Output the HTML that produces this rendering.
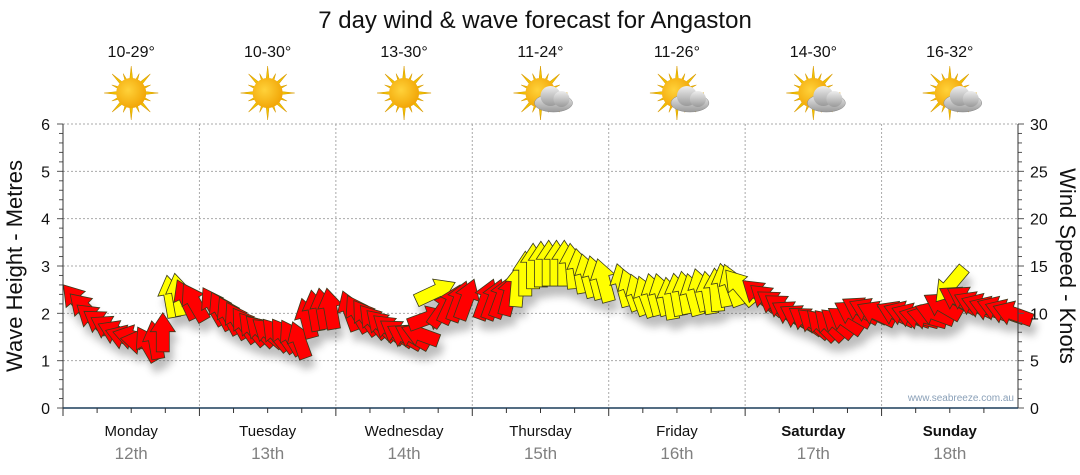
<!DOCTYPE html>
<html><head><meta charset="utf-8"><style>
html,body{margin:0;padding:0;background:#fff;}
svg{display:block;font-family:"Liberation Sans",sans-serif;}
</style></head><body>
<svg id="chart" width="1080" height="475" viewBox="0 0 1080 475" xmlns="http://www.w3.org/2000/svg">
<defs>
<filter id="shadow" x="-50%" y="-50%" width="200%" height="200%"><feGaussianBlur stdDeviation="4"/></filter>
<radialGradient id="sunG" cx="0.4" cy="0.4" r="0.7"><stop offset="0" stop-color="#ffd23a"/><stop offset="1" stop-color="#f0a000"/></radialGradient>
<linearGradient id="cloudG" x1="0" y1="0" x2="0" y2="1"><stop offset="0" stop-color="#eeeeee"/><stop offset="1" stop-color="#9a9a9a"/></linearGradient>
</defs>
<text x="535" y="28" font-size="24" text-anchor="middle" fill="#111">7 day wind &amp; wave forecast for Angaston</text>
<g id="grid"></g>
<g id="icons"></g>
<g id="shadows" filter="url(#shadow)" opacity="0.35"></g>
<g id="arrows"></g>
<g id="axes"></g>
<text transform="translate(22,266) rotate(-90)" font-size="22" text-anchor="middle" fill="#111">Wave Height - Metres</text>
<text transform="translate(1060,266) rotate(90)" font-size="22" text-anchor="middle" fill="#111">Wind Speed - Knots</text>
<text x="1014" y="401" font-size="10" text-anchor="end" fill="#8aa0b8">www.seabreeze.com.au</text>
</svg>
<script>
const days = ["Monday","Tuesday","Wednesday","Thursday","Friday","Saturday","Sunday"];
const dates = ["12th","13th","14th","15th","16th","17th","18th"];
const temps = ["10-29°","10-30°","13-30°","11-24°","11-26°","14-30°","16-32°"];
const cloudy = [0,0,0,1,1,1,1];
const waveTicks = [0,1,2,3,4,5,6];
const knotTicks = [0,5,10,15,20,25,30];
const windSpeed = [
 11.3,10.5,9.5,9,8.5,8,7.5,7.5,7,6.8,7.2,8,11.8,12,11.5,11.2,
 10.8,10.3,9.8,9.3,8.8,8.4,8.2,8,7.8,7.7,7.5,7.2,9.5,10.3,10.5,10.5,
 10.3,10,9.6,9.2,8.8,8.4,8,7.6,7.6,7.8,9.5,12.3,10.5,11,11.3,11.5,
 11.5,11.5,11.7,12,13,14.2,15,15.2,15.3,15.3,15.3,15,14.5,14,13.8,13.5,
 13,12.5,12,11.8,12,12,11.6,12,12.2,12,12.5,12.2,12.5,13,13,12.8,
 12,11.5,11,10.6,10,9.6,9.3,9,8.8,8.8,9,9.3,10,10.4,10.3,10,
 10,10,9.8,9.6,9.6,10,10.8,13.0,11.5,11.5,11,10.8,10.5,10.5,10.2,10];
const windDir = [
 -40,-45,-50,-55,-60,-65,-70,-75,-80,-30,-10,0,-10,-10,-25,-30,
 -30,-28,-28,-30,-35,-40,-45,-50,-40,-35,-30,-20,-15,-10,-10,-10,
 -20,-30,-35,-40,-45,-50,-55,-60,-60,-70,70,65,35,25,20,20,
 20,20,20,15,5,0,0,0,0,0,0,-5,-10,-15,-15,-15,
 -15,-20,-20,-20,-15,-15,-10,-10,-10,-15,-15,-10,-5,-10,-20,-40,
 -50,-50,-55,-55,-60,-60,-55,-50,-45,-45,-50,-55,-60,-60,-65,-65,
 -65,-70,-70,-75,-75,-70,-60,-140,-60,-60,-65,-70,-70,-70,-70,-70];
const windColor = [
 "r","r","r","r","r","r","r","r","r","r","r","r","y","y","r","r",
 "r","r","r","r","r","r","r","r","r","r","r","r","r","r","r","r",
 "r","r","r","r","r","r","r","r","r","r","r","y","r","r","r","r",
 "r","r","r","r","y","y","y","y","y","y","y","y","y","y","y","y",
 "y","y","y","y","y","y","y","y","y","y","y","y","y","y","y","y",
 "r","r","r","r","r","r","r","r","r","r","r","r","r","r","r","r",
 "r","r","r","r","r","r","r","y","r","r","r","r","r","r","r","r"];

const NS="http://www.w3.org/2000/svg";
const X0=63,X1=1018,Y0=408,Y1=124,DW=(X1-X0)/7,PER=16;
const xDay=d=>X0+d*DW;
const xPt=i=>X0+Math.floor(i/PER)*DW+14+(i%PER)*7.8;
const yWave=v=>Y0-(v/6)*(Y0-Y1);
const yKnot=v=>Y0-(v/30)*(Y0-Y1);
function mk(tag,attrs,parent,txt){const e=document.createElementNS(NS,tag);for(const k in attrs)e.setAttribute(k,attrs[k]);if(txt!=null)e.textContent=txt;parent.appendChild(e);return e;}
const grid=document.getElementById('grid'),axes=document.getElementById('axes'),icons=document.getElementById('icons');
waveTicks.forEach(v=>{
  if(v>0){const l=mk('line',{x1:X0,x2:X1,y1:yWave(v),y2:yWave(v),stroke:'#aaa','stroke-dasharray':'2,2'},grid);
  
  }
  const t=mk('text',{x:50,y:yWave(v)+6,'font-size':16,'text-anchor':'end',fill:'#111'},axes,String(v));
  
  
});
for(let k=0;k<=30;k++){const y=yWave(k/5);mk('line',{x1:X0-(k%5==0?6:4),x2:X0,y1:y,y2:y,stroke:'#555'},axes);}
for(let k=0;k<=30;k++){const y=yKnot(k);mk('line',{x1:X1,x2:X1+(k%5==0?6:4),y1:y,y2:y,stroke:'#555'},axes);}
knotTicks.forEach(v=>{
  const t=mk('text',{x:1030,y:yKnot(v)+6,'font-size':16,fill:'#111'},axes,String(v));
  
  
});
mk('line',{x1:X0,x2:X0,y1:Y1,y2:Y0+8,stroke:'#333'},axes);
mk('line',{x1:X1,x2:X1,y1:Y1,y2:Y0,stroke:'#333'},axes);
mk('line',{x1:X0,x2:X1,y1:Y0,y2:Y0,stroke:'#1c3d5a','stroke-width':1.5},axes);
days.forEach((d,i)=>{
  if(i>0){const l=mk('line',{x1:xDay(i),x2:xDay(i),y1:Y1,y2:Y0,stroke:'#aaa','stroke-dasharray':'2,2'},grid);
  
  }
  for(let q=0;q<4;q++){const x=xDay(i)+q*DW/4;mk('line',{x1:x,x2:x,y1:Y0,y2:Y0+(q==0?8:5),stroke:'#333'},axes);}
  const cx=xDay(i)+DW/2;
  const dn=mk('text',{x:cx,y:436,'font-size':15,'text-anchor':'middle',fill:'#111','font-weight':i>=5?'bold':'normal'},axes,d);
  
  
  const dt=mk('text',{x:cx,y:459,'font-size':17,'text-anchor':'middle',fill:'#808080'},axes,dates[i]);
  
  
  const tt=mk('text',{x:cx,y:57,'font-size':16,'text-anchor':'middle',fill:'#111'},icons,temps[i]);
  
  
  const g=mk('g',{transform:`translate(${cx},93)`},icons);
  
  
  for(let r=0;r<16;r++){const a=r*22.5,len=r%2==0?27:21;
    mk('polygon',{points:`-3,0 3,0 0,-${len}`,fill:'#f2c200',stroke:'#d89a00','stroke-width':0.5,transform:`rotate(${a})`},g);}
  mk('circle',{r:15,fill:'url(#sunG)'},g);
  if(cloudy[i]){
    const c=mk('g',{transform:'translate(13,6)'},g);
    mk('ellipse',{cx:0,cy:4,rx:19,ry:9,fill:'url(#cloudG)',stroke:'#888','stroke-width':0.5},c);
    mk('circle',{cx:-3,cy:-3,r:10,fill:'url(#cloudG)'},c);
    mk('circle',{cx:8,cy:0,r:8,fill:'url(#cloudG)'},c);
  }
});
const sh=document.getElementById('shadows'),ar=document.getElementById('arrows');
function arrowPts(L){const h=L/2,hl=19,hw=12.5,sw=6.5;return `0,${-h} ${hw},${-h+hl} ${sw},${-h+hl} ${sw},${h} ${-sw},${h} ${-sw},${-h+hl} ${-hw},${-h+hl}`;}
windSpeed.forEach((v,i)=>{
  const x=xPt(i),y=yKnot(v),L=32+0.9*v;
  mk('polygon',{points:arrowPts(L),fill:'#444',transform:`translate(${x+4},${y+10}) rotate(${windDir[i]})`},sh);
  const p=mk('polygon',{points:arrowPts(L),fill:windColor[i]=='y'?'#ffff00':'#ff0000',stroke:'#3a3a1a','stroke-width':0.8,'stroke-linejoin':'miter',transform:`translate(${x},${y}) rotate(${windDir[i]})`},ar);
  
  
});
</script>
</body></html>
